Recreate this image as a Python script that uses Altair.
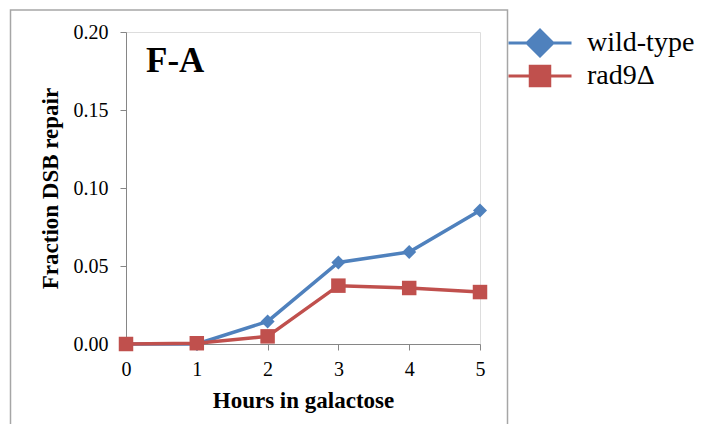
import altair as alt
import pandas as pd

hours = [0, 1, 2, 3, 4, 5]
wild_type = [0.0, 0.0, 0.0145, 0.0523, 0.059, 0.0856]
rad9 = [0.0, 0.0005, 0.0049, 0.0374, 0.0359, 0.0333]
series = ["wild-type", "rad9Δ"]
colors = ["#4F81BD", "#C0504D"]
x_ticks = [0, 1, 2, 3, 4, 5]
y_ticks = [0.0, 0.05, 0.10, 0.15, 0.20]
panel_label = ["F-A"]

df = pd.DataFrame({
    "hours": hours + hours,
    "value": wild_type + rad9,
    "series": [series[0]] * len(hours) + [series[1]] * len(hours),
})

FONT = "Liberation Serif"
AX = "#868686"

# legend glyphs: short line through a marker (filled paths, same winding)
BAR = "M-2.1,-0.1H2.1V0.1H-2.1Z"
DIAMOND = BAR + "M-1,0L0,-1L1,0L0,1Z"
SQUARE = BAR + "M-0.75,-0.75H0.75V0.75H-0.75Z"

legend = alt.Legend(
    title=None, orient="none", legendX=399, legendY=-4, padding=0,
    labelFont=FONT, labelFontSize=28, labelColor="black", labelOffset=32,
    symbolSize=900, symbolStrokeWidth=0, rowPadding=3, symbolOpacity=1,
)

x_enc = alt.X("hours:Q", scale=alt.Scale(domain=[0, 5], nice=False),
              axis=alt.Axis(values=x_ticks, format="d", title="Hours in galactose",
                            grid=False, domainColor=AX, tickColor=AX, tickSize=6,
                            labelFont=FONT, labelFontSize=20, labelColor="black",
                            labelPadding=9, titleFont=FONT, titleFontSize=23,
                            titleFontWeight="bold", titleColor="black", titlePadding=10,
                            labelFlush=False))
y_enc = alt.Y("value:Q", scale=alt.Scale(domain=[0, 0.2], nice=False, zero=True),
              axis=alt.Axis(values=y_ticks, format=".2f", title="Fraction DSB repair",
                            grid=False, domainColor=AX, tickColor=AX, tickSize=6,
                            labelFont=FONT, labelFontSize=20, labelColor="black",
                            labelPadding=12, titleFont=FONT, titleFontSize=23,
                            titleFontWeight="bold", titleColor="black", titlePadding=11,
                            labelFlush=False))

base = alt.Chart(df)
layers = []
shapes = ["diamond", "square"]
sizes = [196, 210]
for s, col, shp, sz in zip(series, colors, shapes, sizes):
    sub = base.transform_filter(alt.datum.series == s)
    layers.append(sub.mark_line(strokeWidth=3.5, color=col).encode(x=x_enc, y=y_enc))
    layers.append(sub.mark_point(shape=shp, size=sz, filled=True, opacity=1, color=col)
                  .encode(x=x_enc, y=y_enc))

# legend-only layer (draws nothing, domain is explicit)
legend_layer = base.transform_filter("false").mark_point(filled=True, opacity=1).encode(
    x=x_enc, y=y_enc,
    color=alt.Color("series:N", scale=alt.Scale(domain=series, range=colors), legend=legend),
    shape=alt.Shape("series:N", scale=alt.Scale(domain=series, range=[DIAMOND, SQUARE]), legend=legend),
)

frame = alt.Chart(pd.DataFrame({"k": [0]})).mark_rect(
    fillOpacity=0, stroke="#A6A6A6", strokeWidth=1.5
).encode(x=alt.value(-115.5), x2=alt.value(381.5), y=alt.value(-22), y2=alt.value(500))

label = alt.Chart(pd.DataFrame({"t": panel_label})).mark_text(
    font=FONT, fontSize=35, fontWeight="bold", align="left", baseline="alphabetic",
    color="black"
).encode(text="t:N", x=alt.value(20), y=alt.value(40))

chart = alt.layer(frame, *layers, legend_layer, label).properties(
    width=354, height=312,
    autosize=alt.AutoSizeParams(type="none"),
    padding={"left": 118, "top": 24, "right": 215, "bottom": 80},
).configure_view(stroke=None).configure(background="white").configure_legend(
    labelFont=FONT, labelFontSize=28, labelColor="black"
)

chart.save("out.html", embed_options={"renderer": "svg", "actions": False})
